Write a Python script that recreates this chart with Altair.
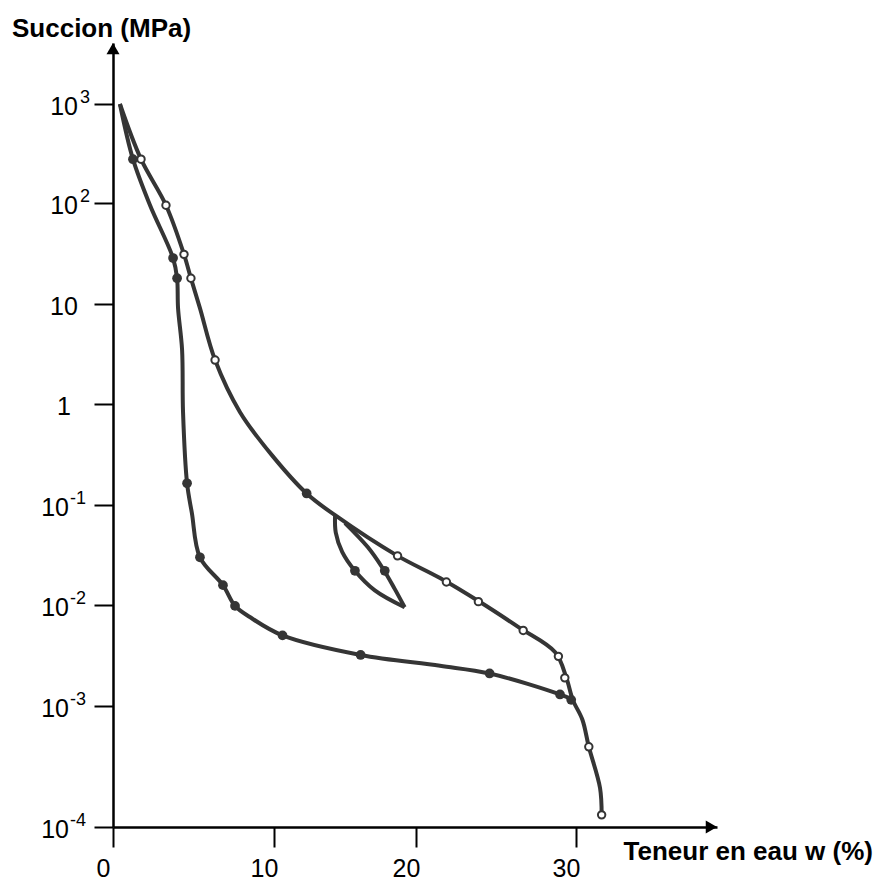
import altair as alt
import pandas as pd

FONT = "Liberation Sans, Arial, sans-serif"
INK = "#353535"

# ---- data (w in %, suction in MPa) ----
dry_w = [0.43, 1.74, 3.29, 4.41, 4.84, 5.40, 6.34, 7.89, 9.88, 12.3, 14.3, 18.7, 21.5, 24.0,
         26.5, 28.7, 29.4, 29.8, 30.4, 30.8, 31.5, 31.6]
dry_s = [1000, 277, 95, 31, 18, 9.1, 2.75, 0.83, 0.31, 0.13, 0.079, 0.031, 0.0186, 0.0107,
         0.0059, 0.0034, 0.0019, 0.00115, 0.00077, 0.00046, 0.00021, 0.000126]

wet_w = [0.43, 1.24, 2.3, 3.73, 3.98, 4.04, 4.29, 4.35, 4.6, 4.9, 5.4, 6.83, 7.58, 8.5,
         10.6, 16.1, 21.5, 24.6, 29.0, 29.8]
wet_s = [1000, 277, 95, 28.5, 18, 9.1, 3.5, 0.83, 0.164, 0.083, 0.030, 0.0158, 0.0098, 0.0076,
         0.0050, 0.0032, 0.0025, 0.0021, 0.0013, 0.00115]

loop_a_w = [14.3, 14.35, 14.8, 15.7, 17.1, 19.2]
loop_a_s = [0.079, 0.053, 0.034, 0.022, 0.014, 0.0095]
loop_b_w = [19.2, 18.5, 17.6, 16.6, 15.0]
loop_b_s = [0.0095, 0.0145, 0.024, 0.038, 0.066]

open_w = [1.74, 3.29, 4.41, 4.84, 6.34, 18.7, 21.9, 23.9, 26.7, 28.9, 29.3, 30.8, 31.6]
open_s = [277, 95, 31, 18, 2.75, 0.031, 0.017, 0.0108, 0.0056, 0.0031, 0.0019, 0.00046, 0.000126]

filled_w = [1.24, 3.73, 3.98, 4.6, 5.4, 6.83, 7.58, 10.6, 16.1, 24.6, 29.0, 12.3, 15.7, 17.8, 29.7]
filled_s = [277, 28.5, 18, 0.164, 0.030, 0.0158, 0.0098, 0.0050, 0.0032, 0.0021, 0.0013,
            0.13, 0.022, 0.022, 0.00115]

x_ticks = [0, 10, 20, 30]
y_tick_values = [1000, 100, 10, 1, 0.1, 0.01, 0.001, 0.0001]
y_tick_base = ["10", "10", "10", "1", "10", "10", "10", "10"]
y_tick_sup = ["3", "2", "", "", "-1", "-2", "-3", "-4"]
y_tick_kind = ["pos", "pos", "none", "none", "neg", "neg", "neg", "neg"]

# ---- tables ----
rows = []
for name, ws, ss in [("dry", dry_w, dry_s), ("wet", wet_w, wet_s),
                     ("loop_a", loop_a_w, loop_a_s), ("loop_b", loop_b_w, loop_b_s)]:
    for i, (w, s) in enumerate(zip(ws, ss)):
        rows.append({"w": w, "s": s, "series": name, "order": i})
curves = pd.DataFrame(rows)
opens = pd.DataFrame({"w": open_w, "s": open_s})
filleds = pd.DataFrame({"w": filled_w, "s": filled_s})
yticks = pd.DataFrame({"s": y_tick_values, "base": y_tick_base, "sup": y_tick_sup, "kind": y_tick_kind})

# ---- scales / axes (piecewise to follow the drawn axes) ----
x_scale = alt.Scale(type="linear", domain=[0, 10, 20, 30, 38.8], range=[0, 161, 303, 463, 604],
                    nice=False, zero=False)
y_scale = alt.Scale(type="log", domain=[1e-4, 1e-3, 1e-2, 1e-1, 1, 10, 100, 1000, 4074],
                    range=[784, 663, 562, 462, 361, 261, 160, 61, 0], nice=False)

x_axis = alt.Axis(values=x_ticks, title=None, grid=False, domainColor="black", domainWidth=2.5,
                  tickColor="black", tickWidth=2, tickSize=20, labelFont=FONT, labelFontSize=25,
                  labelColor="black", labelPadding=9, labelOffset=-10, labelFlush=False,
                  labelOverlap=False)
y_axis = alt.Axis(values=y_tick_values, title=None, grid=False, labels=False, domainColor="black",
                  domainWidth=2.5, tickColor="black", tickWidth=2, tickSize=19)

X = alt.X("w:Q", scale=x_scale, axis=x_axis)
Y = alt.Y("s:Q", scale=y_scale, axis=y_axis)

lines = alt.Chart(curves).mark_line(interpolate="catmull-rom", color=INK, strokeWidth=4).encode(
    x=X, y=Y, detail="series:N", order="order:Q")

open_pts = alt.Chart(opens).mark_point(shape="circle", filled=True, fill="white", stroke=INK,
                                       strokeWidth=2, size=55, opacity=1).encode(x=X, y=Y)
filled_pts = alt.Chart(filleds).mark_point(shape="circle", filled=True, color=INK, size=95,
                                           opacity=1).encode(x=X, y=Y)

def ylab(kind, base_x, base_align, sup_x=None):
    src = alt.Chart(yticks).transform_filter(alt.datum.kind == kind)
    base = src.mark_text(font=FONT, fontSize=25, color="black", align=base_align,
                         baseline="middle", dy=3).encode(
        x=alt.value(base_x), y=Y, text="base:N")
    if sup_x is None:
        return base
    sup = src.mark_text(font=FONT, fontSize=18, color="black", align="left",
                        baseline="middle", dy=-6).encode(
        x=alt.value(sup_x), y=Y, text="sup:N")
    return base + sup

lab_pos = ylab("pos", -35, "right", -33)
lab_neg = ylab("neg", -44, "right", -43)
lab_none = ylab("none", -49, "center")

one = pd.DataFrame({"k": [0]})
arrow_up = alt.Chart(one).mark_point(shape="triangle-up", filled=True, color="black", size=169,
                                     opacity=1).encode(x=alt.value(0), y=alt.value(5.6))
arrow_right = alt.Chart(one).mark_point(shape="triangle-right", filled=True, color="black",
                                        size=169, opacity=1).encode(x=alt.value(598.4), y=alt.value(784))

title_y = alt.Chart(one).mark_text(text="Succion (MPa)", font=FONT, fontSize=26, fontWeight="bold",
                                   color="black", align="left", baseline="alphabetic").encode(
    x=alt.value(-101), y=alt.value(-6))
title_x = alt.Chart(one).mark_text(text="Teneur en eau w (%)", font=FONT, fontSize=26,
                                   fontWeight="bold", color="black", align="right",
                                   baseline="alphabetic").encode(
    x=alt.value(760), y=alt.value(817))

chart = alt.layer(
    lines, open_pts, filled_pts, lab_pos, lab_neg, lab_none,
    arrow_up, arrow_right, title_y, title_x
).properties(
    width=604, height=784,
    padding={"left": 113, "top": 43, "right": 163, "bottom": 54},
    autosize=alt.AutoSizeParams(type="none"),
    background="white",
).configure_view(stroke=None)

chart.save("out.html", embed_options={"renderer": "svg", "actions": False})
